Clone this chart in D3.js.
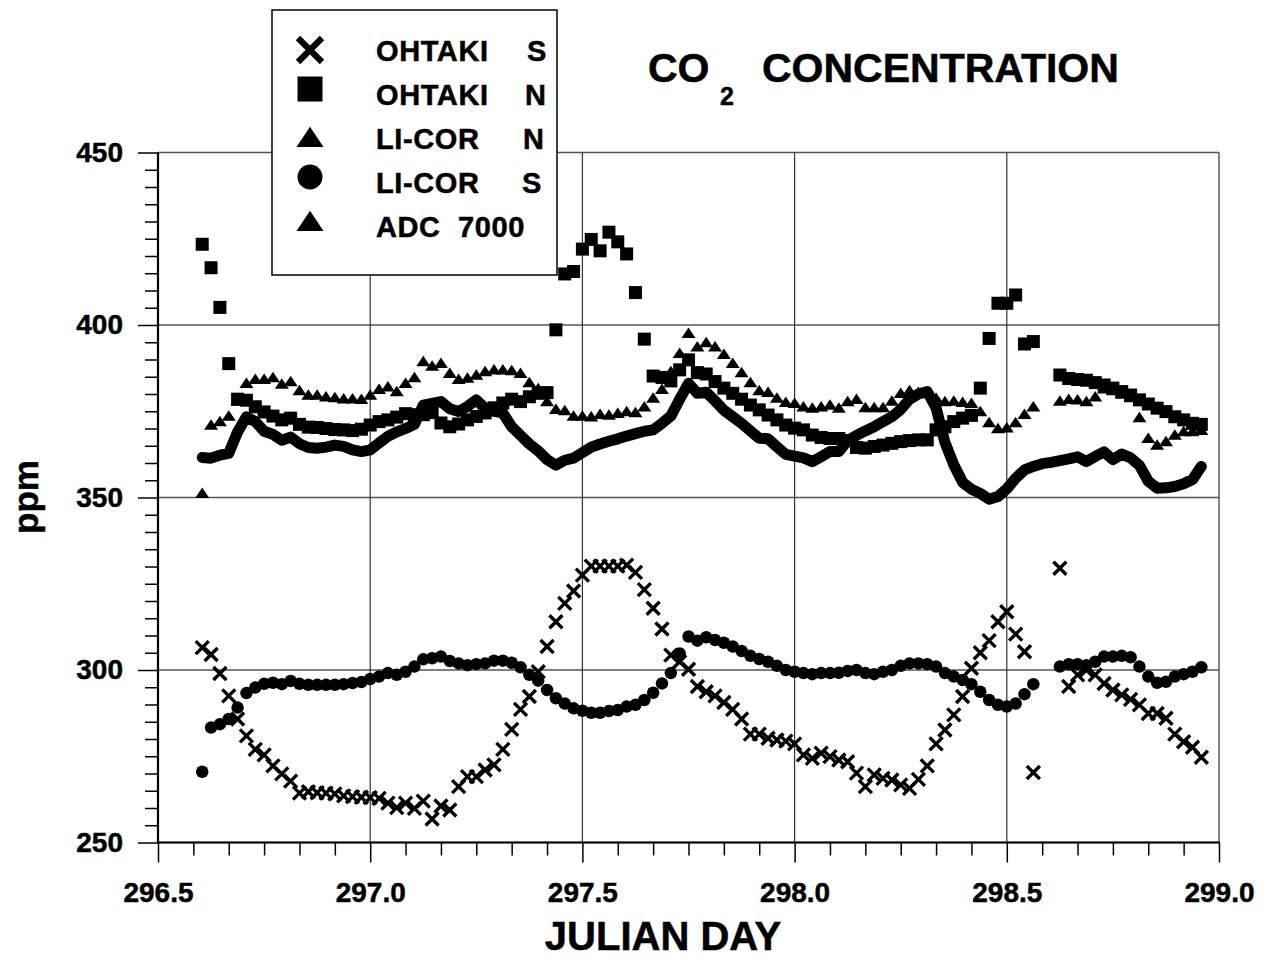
<!DOCTYPE html>
<html><head><meta charset="utf-8">
<script src="https://cdn.jsdelivr.net/npm/d3@7"></script>
<style>
body{margin:0;background:#fff}
svg{display:block}
text{font-family:"Liberation Sans",Arial,Helvetica,sans-serif;font-weight:bold;fill:#000;stroke:#000;stroke-width:0.5px;white-space:pre}
</style>
</head><body>
<svg id="chart" width="1271" height="962"></svg>
<script>
// Half-hourly readings starting at day 296.6042
const startDay = 296.6042;
const stepDay = 1 / 48;

const ohtakiS = [306.5,304.5,299.0,292.5,285.8,280.9,277.0,275.4,272.2,269.9,
 267.8,264.3,264.7,264.4,264.3,264.1,263.5,263.3,263.1,263.0,
 262.8,261.4,260.1,261.4,259.9,262.0,256.8,260.6,259.4,266.2,
 269.1,269.1,271.0,272.5,277.0,282.8,288.6,292.3,299.5,306.8,
 314.0,319.3,322.9,327.5,330.1,330.1,330.1,330.1,330.4,328.3,
 323.3,317.9,311.9,304.3,302.4,300.2,295.2,293.7,292.5,290.6,
 288.6,285.8,281.4,281.4,280.2,279.7,279.4,278.6,275.4,274.4,
 275.9,274.9,273.9,273.4,270.1,266.2,269.6,268.6,268.1,266.7,
 265.7,268.3,272.2,278.6,282.6,287.0,292.3,300.5,305.0,308.5,
 314.0,316.9,310.4,305.3,270.3,null,null,329.5,295.2,298.6,
 300.0,298.6,296.1,294.2,292.8,291.5,289.9,287.4,287.4,286.0,
 281.4,279.2,277.6,274.7];

const ohtakiN = [423.4,416.6,405.1,388.8,378.5,378.2,376.3,374.8,373.6,372.5,
 373.0,371.2,370.4,370.3,370.0,369.7,369.6,369.4,369.8,371.0,
 372.0,372.5,373.3,374.3,374.0,374.0,374.6,371.6,370.5,371.3,
 372.5,373.5,374.5,376.0,377.4,378.5,377.8,379.2,380.2,380.4,
 398.6,414.8,415.5,422.0,424.8,421.5,426.9,424.1,420.6,409.4,
 395.9,385.2,384.8,383.8,387.0,389.9,386.2,385.8,383.6,381.7,
 380.2,378.5,376.8,375.4,373.9,372.5,371.0,370.1,369.6,368.1,
 367.4,367.1,367.1,366.5,364.5,364.3,364.8,365.2,365.7,366.2,
 366.5,366.7,366.7,369.6,370.5,372.0,373.0,373.8,381.7,396.1,
 406.3,406.3,408.7,394.5,395.2,null,null,385.5,384.5,384.2,
 384.0,383.3,382.6,381.7,380.7,379.7,378.3,377.1,375.9,374.9,
 373.4,372.5,371.5,371.2];

const licorN = [351.2,371.0,372.0,373.6,378.0,383.1,384.3,384.3,384.8,382.9,
 383.6,381.0,379.7,379.7,379.2,379.0,378.6,378.6,378.5,379.7,
 381.4,382.1,380.7,383.1,384.8,389.4,388.1,388.9,386.0,384.3,
 384.6,385.5,386.5,387.0,387.0,386.8,386.0,383.3,381.6,377.8,
 375.6,375.2,373.6,373.6,373.4,374.1,373.9,374.4,374.9,374.6,
 376.3,378.8,381.4,386.5,391.8,397.6,393.7,394.9,393.7,391.5,
 388.9,386.2,383.3,381.0,380.5,378.8,377.6,377.3,376.3,375.9,
 376.3,376.8,375.9,377.8,378.5,376.1,376.1,376.1,378.0,380.2,
 381.0,380.5,380.5,378.8,377.8,378.0,377.6,377.3,374.9,371.7,
 370.0,370.2,371.7,374.1,376.3,null,null,378.0,378.5,378.3,
 377.8,379.2,381.5,381.0,380.0,379.0,373.2,367.2,365.2,366.2,
 368.1,369.1,369.1,369.5];

const licorS = [270.5,283.3,284.3,285.8,289.1,293.3,294.9,296.0,296.3,295.9,
 296.8,296.0,295.7,295.7,295.7,295.7,295.9,296.2,296.5,297.4,
 298.1,299.1,298.6,299.5,301.0,303.1,303.4,303.9,302.6,301.9,
 301.4,301.7,301.9,302.7,302.7,302.1,300.8,298.6,296.9,294.2,
 291.8,290.3,288.9,288.2,287.6,287.6,288.1,288.4,289.4,289.9,
 291.3,293.4,296.1,299.1,304.8,309.7,308.5,309.5,308.7,307.9,
 306.8,305.5,304.1,303.2,302.4,301.2,300.0,299.5,299.1,298.8,
 299.1,299.1,299.2,299.7,300.0,299.1,298.8,299.5,300.0,301.2,
 301.9,301.9,301.7,301.0,299.1,298.1,297.1,295.9,293.7,291.3,
 289.9,289.4,290.3,293.0,295.9,null,null,301.0,301.7,301.7,
 301.4,302.4,303.9,303.9,304.1,303.7,301.0,298.1,296.3,296.6,
 298.1,298.8,299.5,300.8];

const adc7000 = [361.6,361.4,362.3,362.8,369.0,373.4,372.0,369.2,368.3,366.6,
 367.5,365.6,364.5,364.3,364.6,365.2,364.8,363.8,363.3,363.8,
 365.8,367.7,369.0,370.0,371.2,376.8,377.3,377.8,375.7,374.9,
 376.4,378.3,375.8,375.0,374.5,370.5,368.0,365.5,363.5,361.0,
 359.4,360.8,361.4,363.0,364.6,365.5,366.3,367.0,367.8,368.5,
 369.2,369.6,371.5,373.6,378.5,383.1,380.2,380.5,378.0,375.3,
 373.4,371.5,369.3,367.2,367.0,364.7,362.5,362.0,361.5,360.4,
 361.8,363.3,363.3,366.5,368.0,369.3,370.5,372.0,373.4,375.5,
 378.5,380.0,380.7,376.0,366.0,359.5,354.4,352.4,351.2,349.5,
 350.3,352.5,355.6,358.0,359.0,359.8,360.2,360.7,361.2,361.8,
 360.4,361.9,363.2,361.0,362.6,361.5,359.3,354.7,352.7,352.8,
 353.2,354.0,355.2,359.0];

const yMajorTicks = [250, 300, 350, 400, 450];
const xMajorTicks = [296.5, 297.0, 297.5, 298.0, 298.5, 299.0];
const legendNames = ["OHTAKI", "OHTAKI", "LI-COR", "LI-COR", "ADC  7000"];
const legendSuffix = ["S", "N", "N", "S", ""];
const legendSymbols = ["cross", "square", "triangle", "circle", "triangle"];
const titleMain = "CO", titleSub = "2", titleRest = "CONCENTRATION";
const xTitle = "JULIAN DAY", yTitle = "ppm";

const svg = d3.select("#chart");
const L = 158, R = 1219, T = 152.5, B = 842.5;
const x = d3.scaleLinear().domain([296.5, 299.0]).range([L, R]);
const y = d3.scaleLinear().domain([250, 450]).range([B, T]);
const dayOf = i => startDay + i * stepDay;

// minor tick values
const yMinor = d3.range(255, 450, 5).filter(v => v % 50 !== 0);
const xMinor = d3.range(0, 31).map(i => 296.5 + i / 12).filter((v, i) => i % 6 !== 0);

// gridlines
const grid = svg.append("g");
grid.selectAll(".hg").data(yMajorTicks).join("line")
  .attr("x1", L).attr("x2", R).attr("y1", d => y(d)).attr("y2", d => y(d))
  .attr("stroke", "#555").attr("stroke-width", 1.3);
grid.selectAll(".vg").data(xMajorTicks).join("line")
  .attr("y1", T).attr("y2", B).attr("x1", d => x(d)).attr("x2", d => x(d))
  .attr("stroke", "#333").attr("stroke-width", 1.2);

// axes
const yAxisMinor = d3.axisLeft(y).tickValues(yMinor).tickSize(13).tickFormat("");
const yAxisMajor = d3.axisLeft(y).tickValues(yMajorTicks).tickSize(20).tickPadding(15).tickFormat(d3.format("d"));
const xAxisMinor = d3.axisBottom(x).tickValues(xMinor).tickSize(13).tickFormat("");
const xAxisMajor = d3.axisBottom(x).tickValues(xMajorTicks).tickSize(20).tickPadding(20).tickFormat(d3.format(".1f"));

function styleAxis(g) {
  g.select(".domain").remove();
  g.selectAll(".tick line").attr("stroke", "#000").attr("stroke-width", 1.5);
  g.selectAll("text").attr("font-size", 28).attr("font-family", '"Liberation Sans",Arial,sans-serif')
    .attr("font-weight", "bold").attr("fill", "#000").attr("stroke", "#000").attr("stroke-width", 0.6);
}
svg.append("g").attr("transform", `translate(${L},0)`).call(yAxisMinor).call(styleAxis);
svg.append("g").attr("transform", `translate(${L},0)`).call(yAxisMajor).call(styleAxis);
svg.append("g").attr("transform", `translate(0,${B})`).call(xAxisMinor).call(styleAxis);
svg.append("g").attr("transform", `translate(0,${B})`).call(xAxisMajor).call(styleAxis);

svg.append("line").attr("x1", L).attr("x2", L).attr("y1", T).attr("y2", B + 1).attr("stroke", "#000").attr("stroke-width", 2.2);
svg.append("line").attr("x1", L - 1).attr("x2", R + 1).attr("y1", B).attr("y2", B).attr("stroke", "#000").attr("stroke-width", 2.2);

// marker drawing helpers
function marker(g, type, s) {
  if (type === "cross") {
    g.append("path").attr("d", `M${-s/2},${-s/2}L${s/2},${s/2}M${-s/2},${s/2}L${s/2},${-s/2}`)
      .attr("stroke", "#000").attr("stroke-width", s * 0.26).attr("fill", "none");
  } else if (type === "square") {
    g.append("rect").attr("x", -s/2).attr("y", -s/2).attr("width", s).attr("height", s).attr("fill", "#000");
  } else if (type === "triangle") {
    const h = s * 0.75;
    g.append("path").attr("d", `M0,${-h*0.55}L${s/2},${h*0.45}L${-s/2},${h*0.45}Z`).attr("fill", "#000");
  } else if (type === "circle") {
    g.append("circle").attr("r", s/2).attr("fill", "#000");
  }
}
function scatter(data, type, s) {
  const pts = data.map((v, i) => ({d: dayOf(i), v})).filter(p => p.v !== null);
  const g = svg.append("g");
  pts.forEach(p => {
    const mg = g.append("g").attr("transform", `translate(${x(p.d)},${y(p.v)})`);
    marker(mg, type, s);
  });
}

scatter(ohtakiS, "cross", 13);
scatter(licorS, "circle", 12.5);
scatter(ohtakiN, "square", 13);
scatter(licorN, "triangle", 14);

// ADC 7000 thick line
const line = d3.line().x((v, i) => x(dayOf(i))).y(v => y(v)).curve(d3.curveLinear);
svg.append("path").attr("d", line(adc7000)).attr("fill", "none").attr("stroke", "#000")
  .attr("stroke-width", 11).attr("stroke-linejoin", "round").attr("stroke-linecap", "round");

// legend
const lg = svg.append("g");
lg.append("rect").attr("x", 272).attr("y", 10).attr("width", 285).attr("height", 265)
  .attr("fill", "#fff").attr("stroke", "#000").attr("stroke-width", 1.5);
const rowBase = [61, 105, 149, 193, 237];
const symY = [50, 89, 138, 177, 222];
const symSize = {cross: 24, square: 25, triangle: 27, circle: 25};
legendNames.forEach((name, i) => {
  const mg = lg.append("g").attr("transform", `translate(310,${symY[i]})`);
  marker(mg, legendSymbols[i], symSize[legendSymbols[i]]);
  lg.append("text").attr("x", 376).attr("y", rowBase[i]).attr("font-size", 29)
    .attr("letter-spacing", 0.6).text(name);
  if (legendSuffix[i]) lg.append("text").attr("x", [527, 525, 523, 522][i]).attr("y", rowBase[i]).attr("font-size", 29).text(legendSuffix[i]);
});

// titles
svg.append("text").attr("x", 648).attr("y", 82).attr("font-size", 41).text(titleMain);
svg.append("text").attr("x", 720).attr("y", 105).attr("font-size", 25).text(titleSub);
svg.append("text").attr("x", 762).attr("y", 82).attr("font-size", 41).text(titleRest);
svg.append("text").attr("x", 663).attr("y", 950).attr("text-anchor", "middle").attr("font-size", 40).text(xTitle);
svg.append("text").attr("transform", "translate(38,497) rotate(-90)").attr("text-anchor", "middle").attr("font-size", 35).text(yTitle);
</script>
</body></html>
